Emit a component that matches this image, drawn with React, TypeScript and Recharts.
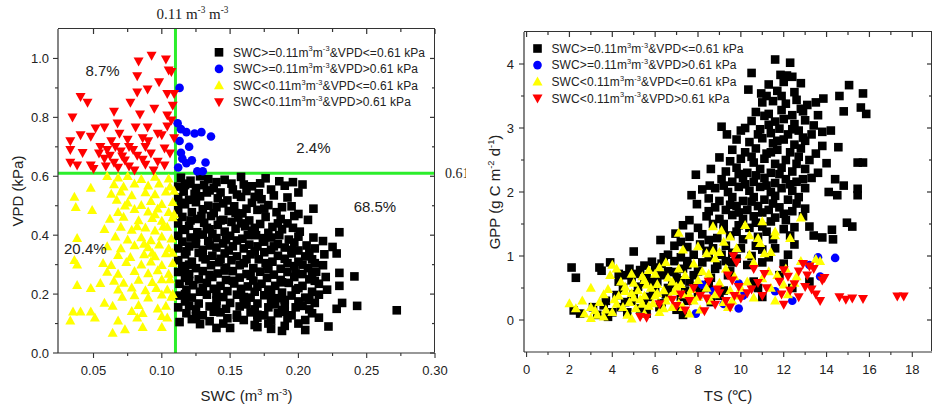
import React from "react";
import { ScatterChart, Scatter, XAxis, YAxis, ReferenceLine, ReferenceDot, Label } from "recharts";

const FONT = '"Liberation Sans", Arial, sans-serif';
const SERIF = '"Liberation Serif", "Times New Roman", serif';
const AXIS = "#333";
const TEXT = "#222";
const GREEN = "#2bee2b";

// axis ticks
const swcMajor = [0.05, 0.1, 0.15, 0.2, 0.25, 0.3];
const swcMinor = [0.075, 0.125, 0.175, 0.225, 0.275];
const vpdMajor = [0, 0.2, 0.4, 0.6, 0.8, 1.0];
const vpdMinor = [0.1, 0.3, 0.5, 0.7, 0.9];
const tsMajor = [0, 2, 4, 6, 8, 10, 12, 14, 16, 18];
const tsMinor = [1, 3, 5, 7, 9, 11, 13, 15, 17];
const gppMajor = [0, 1, 2, 3, 4];
const gppMinor = [0.5, 1.5, 2.5, 3.5];

// axis ranges
const swcDomain: [number, number] = [0.024, 0.3];
const vpdDomain: [number, number] = [0, 1.1];
const tsDomain: [number, number] = [-0.12, 18.92];
const gppDomain: [number, number] = [-0.5, 4.5];

// thresholds and share of days per group (left panel)
const swcThreshold = 0.11;
const vpdThreshold = 0.61;
const shares = ["68.5%", "2.4%", "20.4%", "8.7%"];

// groups: SWC op, VPD op
const groups = [
  { op1: ">=", op2: "<=", color: "#000000", shape: "square" },
  { op1: ">=", op2: ">", color: "#0000ff", shape: "circle" },
  { op1: "<", op2: "<=", color: "#ffff00", shape: "up" },
  { op1: "<", op2: ">", color: "#ff0000", shape: "down" },
];

// ---- left panel: [SWC, VPD]
const leftBlack: [number, number][] = [
  [0.114,0.595],[0.121,0.585],[0.128,0.6],[0.134,0.59],[0.146,0.588],[0.158,0.598],[0.176,0.593],[0.186,0.583],[0.196,0.58],
  [0.112,0.565],[0.119,0.575],[0.131,0.57],[0.138,0.56],[0.151,0.575],[0.166,0.566],[0.172,0.576],[0.19,0.568],[0.203,0.572],
  [0.116,0.548],[0.124,0.54],[0.135,0.552],[0.143,0.545],[0.155,0.538],[0.162,0.55],[0.171,0.542],[0.18,0.555],[0.2,0.545],
  [0.112,0.528],[0.12,0.52],[0.128,0.532],[0.141,0.525],[0.148,0.518],[0.158,0.53],[0.173,0.522],[0.192,0.528],
  [0.117,0.505],[0.125,0.512],[0.134,0.5],[0.145,0.508],[0.153,0.498],[0.166,0.51],[0.178,0.502],[0.195,0.498],[0.211,0.49],
  [0.112,0.485],[0.122,0.478],[0.13,0.488],[0.138,0.475],[0.149,0.482],[0.159,0.474],[0.17,0.486],[0.184,0.478],[0.2,0.472],
  [0.115,0.462],[0.126,0.455],[0.136,0.465],[0.145,0.452],[0.156,0.46],[0.164,0.45],[0.176,0.462],[0.187,0.455],[0.197,0.465],[0.207,0.452],
  [0.112,0.44],[0.12,0.432],[0.131,0.442],[0.141,0.435],[0.151,0.445],[0.161,0.43],[0.172,0.438],[0.181,0.428],[0.192,0.44],
  [0.117,0.418],[0.126,0.41],[0.135,0.42],[0.146,0.412],[0.154,0.422],[0.166,0.415],[0.178,0.408],[0.188,0.42],[0.201,0.412],[0.23,0.41],
  [0.112,0.398],[0.121,0.392],[0.13,0.402],[0.14,0.39],[0.15,0.398],[0.159,0.388],[0.169,0.4],[0.18,0.392],[0.193,0.385],[0.211,0.392],
  [0.115,0.378],[0.125,0.37],[0.134,0.38],[0.145,0.372],[0.155,0.382],[0.164,0.368],[0.175,0.378],[0.185,0.37],[0.197,0.375],[0.206,0.365],[0.218,0.38],
  [0.112,0.355],[0.12,0.362],[0.13,0.35],[0.14,0.358],[0.149,0.348],[0.16,0.355],[0.17,0.362],[0.18,0.35],[0.19,0.358],[0.2,0.348],[0.212,0.355],[0.225,0.36],
  [0.117,0.335],[0.127,0.34],[0.137,0.33],[0.146,0.338],[0.155,0.328],[0.165,0.335],[0.175,0.342],[0.185,0.33],[0.195,0.338],[0.205,0.328],[0.219,0.335],[0.228,0.338],
  [0.112,0.315],[0.122,0.31],[0.132,0.318],[0.142,0.308],[0.151,0.315],[0.16,0.305],[0.171,0.318],[0.181,0.31],[0.19,0.32],[0.2,0.31],[0.21,0.318],
  [0.115,0.295],[0.125,0.288],[0.136,0.298],[0.147,0.29],[0.157,0.298],[0.167,0.288],[0.177,0.296],[0.187,0.286],[0.197,0.295],[0.207,0.288],[0.218,0.298],
  [0.112,0.275],[0.12,0.268],[0.13,0.278],[0.141,0.27],[0.152,0.278],[0.162,0.268],[0.172,0.276],[0.182,0.266],[0.192,0.275],[0.203,0.268],[0.213,0.276],[0.23,0.272],[0.241,0.26],
  [0.117,0.255],[0.127,0.25],[0.137,0.258],[0.147,0.248],[0.157,0.256],[0.167,0.246],[0.177,0.255],[0.187,0.248],[0.197,0.258],[0.208,0.25],[0.22,0.258],
  [0.113,0.235],[0.123,0.23],[0.133,0.238],[0.143,0.228],[0.153,0.236],[0.163,0.226],[0.173,0.235],[0.183,0.228],[0.193,0.238],[0.203,0.228],[0.215,0.235],[0.23,0.228],
  [0.118,0.215],[0.128,0.208],[0.138,0.218],[0.148,0.21],[0.158,0.218],[0.168,0.208],[0.178,0.215],[0.188,0.205],[0.198,0.215],[0.21,0.208],[0.221,0.215],
  [0.113,0.195],[0.122,0.188],[0.133,0.198],[0.145,0.19],[0.155,0.198],[0.165,0.188],[0.175,0.196],[0.185,0.186],[0.195,0.195],[0.205,0.188],[0.215,0.198],
  [0.117,0.175],[0.127,0.168],[0.14,0.178],[0.15,0.17],[0.16,0.178],[0.17,0.168],[0.18,0.176],[0.19,0.166],[0.2,0.175],[0.212,0.17],[0.232,0.17],
  [0.112,0.155],[0.125,0.148],[0.135,0.158],[0.147,0.15],[0.157,0.158],[0.168,0.148],[0.178,0.155],[0.188,0.146],[0.198,0.155],[0.208,0.148],[0.243,0.16],
  [0.118,0.135],[0.13,0.128],[0.143,0.138],[0.155,0.13],[0.165,0.138],[0.175,0.128],[0.185,0.135],[0.195,0.128],[0.21,0.135],[0.228,0.15],[0.272,0.145],
  [0.122,0.115],[0.135,0.108],[0.148,0.118],[0.16,0.112],[0.17,0.12],[0.18,0.11],[0.192,0.118],[0.205,0.112],[0.215,0.12],
  [0.113,0.105],[0.128,0.098],[0.145,0.1],[0.168,0.095],[0.178,0.1],[0.19,0.092],[0.2,0.1],
  [0.14,0.085],[0.15,0.085],[0.17,0.088],[0.18,0.082],[0.222,0.09],[0.188,0.075],[0.205,0.078],
  [0.117,0.57],[0.125,0.56],[0.133,0.545],[0.14,0.58],[0.152,0.555],[0.16,0.572],[0.168,0.53],[0.182,0.535],
  [0.114,0.51],[0.129,0.465],[0.14,0.495],[0.154,0.475],[0.162,0.49],[0.175,0.49],[0.188,0.495],[0.121,0.45],
  [0.133,0.425],[0.143,0.45],[0.158,0.44],[0.168,0.425],[0.185,0.44],[0.196,0.425],[0.115,0.42],
  [0.125,0.39],[0.137,0.405],[0.147,0.385],[0.163,0.4],[0.174,0.39],[0.186,0.4],[0.2,0.395],
  [0.118,0.345],[0.135,0.365],[0.152,0.362],[0.168,0.345],[0.182,0.362],[0.195,0.35],[0.208,0.34],
  [0.12,0.3],[0.13,0.325],[0.143,0.32],[0.162,0.318],[0.176,0.305],[0.192,0.305],[0.203,0.3],[0.212,0.305],
  [0.117,0.28],[0.135,0.265],[0.146,0.28],[0.165,0.262],[0.178,0.285],[0.198,0.27],[0.21,0.262],
  [0.12,0.245],[0.13,0.22],[0.152,0.245],[0.17,0.225],[0.188,0.24],[0.2,0.22],[0.212,0.245],
  [0.117,0.2],[0.14,0.2],[0.16,0.19],[0.18,0.2],[0.19,0.18],[0.208,0.18],
  [0.12,0.16],[0.14,0.16],[0.162,0.165],[0.183,0.165],[0.203,0.16],[0.138,0.14],[0.17,0.13],[0.19,0.14],[0.125,0.125],[0.155,0.12],
];
const leftBlue: [number, number][] = [
  [0.113,0.9],[0.1116,0.78],[0.114,0.76],[0.118,0.75],[0.124,0.745],[0.129,0.75],[0.136,0.735],[0.12,0.7],[0.114,0.68],
  [0.115,0.66],[0.122,0.654],[0.118,0.644],[0.132,0.647],[0.113,0.72],[0.126,0.617],[0.13,0.617],[0.112,0.63],
];
const leftYellow: [number, number][] = [
  [0.06,0.6],[0.068,0.595],[0.075,0.6],[0.085,0.59],[0.095,0.598],[0.105,0.592],
  [0.048,0.56],[0.065,0.572],[0.072,0.565],[0.08,0.575],[0.09,0.568],[0.098,0.575],[0.106,0.565],
  [0.036,0.53],[0.063,0.54],[0.07,0.548],[0.078,0.535],[0.088,0.545],[0.095,0.538],[0.103,0.548],
  [0.037,0.495],[0.075,0.51],[0.085,0.502],[0.092,0.515],[0.1,0.505],[0.108,0.512],
  [0.049,0.485],[0.068,0.478],[0.08,0.488],[0.09,0.48],[0.097,0.49],[0.105,0.478],
  [0.062,0.455],[0.072,0.462],[0.083,0.45],[0.093,0.458],[0.1,0.448],[0.108,0.46],
  [0.058,0.42],[0.07,0.428],[0.078,0.418],[0.088,0.425],[0.095,0.415],[0.104,0.428],
  [0.038,0.39],[0.066,0.395],[0.075,0.385],[0.085,0.392],[0.092,0.382],[0.1,0.395],[0.107,0.388],
  [0.06,0.362],[0.07,0.355],[0.08,0.365],[0.09,0.358],[0.098,0.368],[0.105,0.355],
  [0.068,0.332],[0.077,0.325],[0.087,0.335],[0.095,0.328],[0.103,0.338],
  [0.036,0.315],[0.038,0.3],[0.057,0.305],[0.063,0.298],[0.074,0.308],[0.085,0.3],[0.092,0.31],[0.1,0.298],[0.108,0.305],
  [0.06,0.275],[0.068,0.268],[0.08,0.278],[0.09,0.27],[0.097,0.28],[0.105,0.268],
  [0.055,0.237],[0.065,0.245],[0.072,0.238],[0.083,0.248],[0.093,0.24],[0.1,0.25],
  [0.038,0.23],[0.048,0.22],[0.068,0.215],[0.078,0.222],[0.088,0.212],[0.096,0.22],[0.104,0.215],
  [0.071,0.19],[0.08,0.195],[0.09,0.188],[0.1,0.198],[0.107,0.19],
  [0.058,0.17],[0.064,0.16],[0.083,0.162],[0.097,0.15],[0.103,0.16],
  [0.035,0.14],[0.0405,0.14],[0.048,0.14],[0.078,0.142],[0.086,0.135],[0.104,0.12],
  [0.033,0.11],[0.051,0.12],[0.068,0.11],[0.082,0.12],[0.1,0.125],
  [0.073,0.08],[0.086,0.088],[0.1,0.088],[0.064,0.068],
  [0.082,0.43],[0.095,0.47],[0.101,0.43],[0.087,0.37],[0.093,0.34],[0.108,0.34],[0.106,0.25],[0.108,0.2],
  [0.109,0.55],[0.109,0.47],[0.073,0.5],[0.067,0.52],
];
const leftRed: [number, number][] = [
  [0.0925,1.01],[0.083,0.99],[0.103,0.997],[0.082,0.94],[0.107,0.955],[0.0896,0.895],[0.082,0.885],[0.104,0.88],
  [0.0405,0.87],[0.0456,0.85],[0.077,0.85],[0.0346,0.8],[0.065,0.82],[0.084,0.81],[0.0945,0.83],[0.104,0.807],
  [0.0676,0.78],[0.0515,0.763],[0.058,0.766],[0.0808,0.766],[0.0896,0.766],[0.104,0.77],[0.0405,0.74],[0.048,0.735],
  [0.069,0.745],[0.086,0.73],[0.097,0.745],[0.033,0.72],[0.055,0.7],[0.06,0.69],[0.066,0.7],[0.076,0.7],[0.088,0.7],
  [0.102,0.695],[0.033,0.69],[0.042,0.68],[0.054,0.678],[0.062,0.67],[0.071,0.668],[0.082,0.67],[0.092,0.678],
  [0.106,0.678],[0.058,0.66],[0.065,0.647],[0.073,0.654],[0.086,0.657],[0.097,0.65],[0.033,0.647],[0.038,0.637],
  [0.048,0.637],[0.059,0.634],[0.068,0.63],[0.076,0.634],[0.088,0.64],[0.102,0.637],[0.109,0.88],[0.109,0.73],
  [0.09,0.72],[0.075,0.725],[0.063,0.72],[0.1,0.74],[0.107,0.79],[0.108,0.84],[0.105,0.96],[0.098,0.92],
  [0.094,0.62],[0.08,0.62],[0.05,0.625],[0.07,0.685],[0.079,0.69],
];

// ---- right panel: [TS, GPP]
const rightBlack: [number, number][] = [
  [11.6,4.07],[12.3,4.02],[10.5,3.86],[11.85,3.83],[12.15,3.82],[12.4,3.8],
  [12.8,3.7],[15.05,3.67],[11.3,3.68],[12.0,3.72],
  [10.35,3.6],[10.95,3.54],[11.7,3.58],[12.5,3.56],[13.85,3.46],[14.6,3.5],[15.7,3.54],
  [11.0,3.4],[11.5,3.42],[12.1,3.38],[12.6,3.44],[13.1,3.36],[13.5,3.4],
  [10.7,3.25],[11.3,3.22],[11.9,3.28],[12.4,3.2],[12.9,3.26],[14.8,3.26],[15.6,3.32],[15.85,3.22],
  [10.5,3.11],[11.1,3.19],[11.6,3.1],[12.0,3.14],[12.5,3.06],[13.0,3.12],[13.4,3.04],[14.2,2.96],
  [9.1,3.02],[10.0,2.96],[10.9,2.98],[11.4,2.92],[11.8,2.99],[12.2,2.9],[12.7,2.96],[13.3,2.9],[13.8,2.94],
  [9.35,2.9],[9.8,2.82],[10.4,2.78],[11.0,2.84],[11.5,2.76],[12.0,2.82],[12.5,2.74],[13.0,2.8],[14.55,2.7],
  [9.6,2.66],[10.2,2.62],[10.7,2.68],[11.2,2.6],[11.7,2.66],[12.3,2.62],[12.8,2.68],[13.5,2.6],
  [9.0,2.54],[9.5,2.48],[10.0,2.52],[10.6,2.46],[11.1,2.52],[11.6,2.44],[12.1,2.5],[12.6,2.44],[13.2,2.5],[15.45,2.46],[15.7,2.46],
  [8.6,2.36],[9.3,2.32],[9.8,2.38],[10.3,2.3],[10.9,2.36],[11.4,2.3],[11.9,2.38],[12.4,2.32],[13.0,2.36],[13.6,2.3],
  [7.9,2.27],[8.55,2.1],[9.1,2.2],[9.6,2.16],[10.1,2.22],[10.6,2.16],[11.1,2.22],[11.6,2.14],[12.1,2.2],[12.6,2.16],[13.3,2.22],[14.4,2.2],
  [8.2,2.04],[8.8,2.06],[9.4,2.0],[9.9,2.08],[10.4,2.02],[10.9,2.08],[11.4,2.0],[11.9,2.06],[12.4,2.02],[13.0,2.06],[14.8,2.1],[15.45,2.05],
  [7.7,1.95],[8.5,1.9],[9.0,1.86],[9.6,1.92],[10.1,1.86],[10.6,1.92],[11.1,1.88],[11.6,1.94],[12.2,1.88],[12.7,1.92],[14.1,2.0],[14.5,1.95],[15.45,1.95],
  [7.95,1.81],[8.8,1.76],[9.3,1.72],[9.8,1.78],[10.3,1.72],[10.8,1.78],[11.3,1.72],[11.8,1.76],[12.4,1.7],[13.0,1.74],
  [7.6,1.56],[8.4,1.62],[9.0,1.58],[9.6,1.64],[10.1,1.58],[10.6,1.62],[11.6,1.6],[12.1,1.56],[12.9,1.62],[14.95,1.52],
  [7.3,1.48],[8.0,1.44],[8.7,1.5],[9.2,1.42],[9.9,1.48],[10.4,1.44],[11.0,1.46],[12.0,1.42],[13.2,1.46],[14.25,1.41],[15.2,1.46],
  [6.95,1.35],[7.6,1.3],[8.2,1.34],[8.9,1.28],[9.5,1.32],[10.1,1.26],[10.8,1.3],[11.5,1.26],[12.3,1.32],[13.4,1.32],[13.8,1.29],[14.3,1.26],
  [6.25,1.25],[6.9,1.16],[7.5,1.14],[8.1,1.18],[8.7,1.12],[9.3,1.16],[10.0,1.12],[10.7,1.16],[11.6,1.12],[12.5,1.18],
  [5.0,1.07],[6.6,1.02],[7.2,0.98],[7.8,1.02],[8.5,0.98],[9.1,1.02],[9.8,0.96],[10.5,1.0],[11.3,0.98],[12.2,1.02],
  [3.9,0.9],[5.85,0.91],[6.3,0.88],[6.9,0.92],[7.5,0.86],[8.2,0.9],[8.9,0.86],[9.6,0.9],[10.3,0.86],[11.0,0.9],[12.0,0.88],
  [2.1,0.82],[3.4,0.82],[4.8,0.8],[5.3,0.78],[6.0,0.82],[6.6,0.76],[7.3,0.8],[8.0,0.76],[8.8,0.8],[9.5,0.76],
  [2.3,0.66],[3.5,0.77],[4.6,0.7],[5.1,0.72],[5.6,0.66],[6.3,0.7],[7.0,0.66],[7.8,0.7],[8.6,0.66],[9.4,0.7],[11.8,0.7],
  [4.3,0.6],[4.9,0.62],[5.5,0.58],[6.1,0.6],[6.8,0.56],[7.6,0.6],[8.5,0.56],[10.6,0.6],[13.2,0.6],
  [4.5,0.5],[5.2,0.52],[5.9,0.48],[6.6,0.5],[7.4,0.46],[8.3,0.5],[9.2,0.46],[10.8,0.5],[12.4,0.5],
  [4.2,0.39],[5.0,0.4],[5.7,0.36],[6.5,0.4],[7.2,0.36],[8.0,0.4],[9.0,0.38],[11.0,0.36],
  [3.7,0.3],[4.6,0.28],[5.5,0.3],[6.3,0.26],[7.5,0.3],[8.6,0.28],
  [2.2,0.15],[3.6,0.23],[4.4,0.2],[5.3,0.18],[6.2,0.2],[7.0,0.16],
  [2.5,0.1],[3.3,0.08],[4.0,0.12],[5.6,0.1],[7.3,0.08],[3.8,0.05],
  [10.2,3.0],[10.8,2.9],[11.3,3.05],[12.4,2.98],[12.9,2.85],[11.7,2.8],[10.5,2.55],[11.4,2.62],[12.7,2.55],
  [9.9,2.28],[10.7,2.26],[11.8,2.28],[12.9,2.2],[9.2,2.1],[10.2,2.12],[11.2,2.1],[12.3,2.12],[9.5,1.8],
  [10.5,1.85],[11.5,1.82],[12.6,1.82],[8.5,1.7],[9.9,1.68],[11.0,1.68],[12.0,1.66],[9.2,1.5],[10.7,1.52],
  [11.4,1.54],[12.5,1.45],[8.5,1.25],[9.8,1.38],[11.2,1.38],[7.2,1.22],[8.4,1.08],[9.6,1.05],[11.0,1.1],
  [6.4,0.98],[7.5,0.92],[9.3,0.92],[5.5,0.85],[6.9,0.75],[4.3,0.72],[5.8,0.6],[7.2,0.62],[4.9,0.3],
  [6.0,0.45],[7.9,0.52],[3.1,0.2],[4.7,0.12],[11.9,3.5],[12.8,3.3],[11.2,3.5],[13.6,3.2],[13.8,2.72],[14.0,2.45],
];
const rightBlue: [number, number][] = [
  [13.6,0.98],[14.4,0.97],[9.9,0.18],[7.9,0.1],[13.2,0.86],[9.9,0.57],[8.7,0.45],[10.1,0.38],[11.6,0.45],
  [13.7,0.68],[9.2,0.25],[12.4,0.3],[8.2,0.55],
];
const rightYellow: [number, number][] = [
  [12.8,1.6],[11.0,1.54],[8.7,1.46],[10.2,1.48],[7.1,1.36],[9.1,1.4],[11.6,1.38],
  [9.5,1.3],[10.4,1.32],[10.8,1.28],[11.6,1.32],[12.3,1.28],
  [8.0,1.15],[9.2,1.22],[10.9,1.2],[7.3,1.1],[8.7,1.08],[9.8,1.12],[11.4,1.06],
  [8.4,1.04],[9.0,1.06],[10.4,1.02],[11.1,1.04],[8.8,0.96],[13.5,0.95],[13.7,0.92],
  [4.0,0.86],[6.5,0.9],[7.8,0.88],[10.6,0.9],[12.8,0.92],
  [4.2,0.8],[5.7,0.78],[6.2,0.82],[7.1,0.8],[8.2,0.76],[9.3,0.8],[11.3,0.76],[12.1,0.8],
  [3.9,0.7],[4.9,0.72],[5.4,0.68],[6.0,0.72],[6.6,0.66],[7.4,0.7],[8.5,0.72],[9.7,0.68],[11.7,0.7],[12.6,0.68],
  [4.4,0.6],[5.0,0.58],[5.5,0.62],[6.1,0.56],[6.8,0.6],[7.2,0.56],[8.0,0.62],[9.0,0.58],[10.3,0.6],[12.5,0.58],
  [3.0,0.5],[3.8,0.48],[4.6,0.52],[5.2,0.46],[5.8,0.5],[6.4,0.46],[7.0,0.52],[7.7,0.48],[8.4,0.5],[9.5,0.46],[11.4,0.5],
  [3.6,0.4],[4.3,0.38],[4.9,0.42],[5.5,0.38],[6.1,0.42],[6.7,0.36],[7.3,0.4],[8.0,0.36],[8.8,0.4],[9.9,0.38],[12.2,0.4],
  [2.0,0.26],[2.6,0.3],[3.4,0.28],[4.1,0.32],[4.8,0.28],[5.3,0.32],[5.9,0.26],[6.5,0.3],[7.1,0.26],[7.8,0.3],[9.2,0.28],[11.6,0.3],
  [2.3,0.18],[3.0,0.2],[3.7,0.16],[4.5,0.2],[5.1,0.18],[5.7,0.22],[6.4,0.18],[7.3,0.2],[8.1,0.16],[9.4,0.2],
  [2.7,0.1],[3.3,0.08],[4.0,0.12],[4.7,0.08],[5.5,0.1],[6.2,0.12],[7.6,0.1],
  [3.0,0.03],[3.6,0.05],[4.9,0.02],
  [5.0,0.35],[5.4,0.25],[6.0,0.38],[4.6,0.45],[6.9,0.45],[5.6,0.55],[4.2,0.25],[3.2,0.15],[6.8,0.2],
  [7.6,0.4],[8.6,0.3],[10.0,0.5],[11.0,0.65],[12.0,0.55],[9.6,0.3],[10.6,0.35],
];
const rightRed: [number, number][] = [
  [9.65,1.0],[9.8,0.9],[12.9,0.88],[13.2,0.84],[10.6,0.8],[12.0,0.78],[12.7,0.76],[13.4,0.8],
  [9.4,0.7],[11.1,0.72],[12.2,0.68],[13.1,0.7],[13.9,0.66],
  [8.5,0.6],[9.6,0.62],[10.8,0.58],[11.8,0.6],[12.5,0.56],[13.8,0.62],
  [7.8,0.5],[8.9,0.48],[9.9,0.52],[10.5,0.48],[11.2,0.5],[12.3,0.46],[13.0,0.52],[13.3,0.48],
  [7.2,0.4],[8.1,0.38],[9.0,0.42],[9.7,0.38],[10.3,0.42],[11.0,0.38],[11.9,0.4],[12.7,0.36],[13.5,0.4],[14.6,0.36],[15.2,0.34],
  [6.8,0.32],[7.6,0.3],[8.4,0.34],[9.3,0.3],[10.0,0.34],[13.7,0.3],[15.7,0.33],[17.3,0.37],[17.6,0.37],[14.9,0.32],
  [6.2,0.25],[7.0,0.22],[8.8,0.24],[9.5,0.2],[12.0,0.24],[7.4,0.15],[8.3,0.14],[5.3,0.05],[5.6,0.04],
];

const toPts = (arr: [number, number][]) => arr.map(([x, y]) => ({ x, y }));
const merge = (a: number[], b: number[]) => [...a, ...b].sort((p, q) => p - q);
const isIn = (list: number[], v: number) => list.some((m) => Math.abs(m - v) < 1e-9);

// marker shapes
const Marker = ({ kind, cx, cy, color }: any) => {
  if (cx == null || cy == null) return null;
  if (kind === "square") return <rect x={cx - 4.3} y={cy - 4.3} width={8.6} height={8.6} fill={color} />;
  if (kind === "circle") return <circle cx={cx} cy={cy} r={4.3} fill={color} />;
  if (kind === "up")
    return <path d={`M${cx},${cy - 5.2}L${cx + 5},${cy + 3.8}L${cx - 5},${cy + 3.8}Z`} fill={color} />;
  return <path d={`M${cx},${cy + 5.2}L${cx + 5},${cy - 3.8}L${cx - 5},${cy - 3.8}Z`} fill={color} />;
};
const shapeFor = (g: (typeof groups)[number]) => (p: any) => <Marker kind={g.shape} cx={p.cx} cy={p.cy} color={g.color} />;

// text with superscripts: parts = [text, isSup]
const Rich = ({ parts, size, ...rest }: any) => {
  let up = false;
  return (
    <text fontSize={size} {...rest}>
      {parts.map(([t, sup]: [string, boolean], i: number) => {
        let dy = 0;
        if (sup && !up) { dy = -size * 0.42; up = true; }
        else if (!sup && up) { dy = size * 0.42; up = false; }
        return (
          <tspan key={i} dy={dy} fontSize={sup ? size * 0.62 : size}>
            {t}
          </tspan>
        );
      })}
    </text>
  );
};

const legendParts = (g: (typeof groups)[number]) => [
  [`SWC${g.op1}${swcThreshold}m`, false],
  ["3", true],
  ["m", false],
  ["-3", true],
  [`&VPD${g.op2}${vpdThreshold} kPa`, false],
];

const LegendBox = ({ x, y, gap }: { x: number; y: number; gap: number }) => (
  <g fontFamily={FONT}>
    {groups.map((g, i) => (
      <g key={i}>
        <Marker kind={g.shape} cx={x} cy={y + i * gap} color={g.color} />
        <Rich parts={legendParts(g)} size={12} letterSpacing={0.1} x={x + 14} y={y + i * gap + 4.2} fill={TEXT} />
      </g>
    ))}
  </g>
);

// top and right edges of the plot box with inward ticks (same box as the chart margins give)
type Box = { l: number; r: number; t: number; b: number };
const MirrorTicks = ({ box, xd, yd, xTicks, xMajor, yTicks, yMajor }: {
  box: Box; xd: [number, number]; yd: [number, number]; xTicks: number[]; xMajor: number[]; yTicks: number[]; yMajor: number[];
}) => {
  const sx = (v: number) => box.l + ((v - xd[0]) / (xd[1] - xd[0])) * (box.r - box.l);
  const sy = (v: number) => box.b - ((v - yd[0]) / (yd[1] - yd[0])) * (box.b - box.t);
  return (
    <g>
      {xTicks.map((v) => (
        <rect key={`x${v}`} x={sx(v) - 0.6} y={box.t} width={1.2} height={isIn(xMajor, v) ? 5 : 3} fill={AXIS} />
      ))}
      {yTicks.map((v) => (
        <rect key={`y${v}`} x={box.r - (isIn(yMajor, v) ? 5 : 3)} y={sy(v) - 0.6} width={isIn(yMajor, v) ? 5 : 3} height={1.2} fill={AXIS} />
      ))}
    </g>
  );
};

// CSS edge lines for the top and right sides of the box
const EdgeBox = ({ box }: { box: Box }) => (
  <div
    style={{
      position: "absolute",
      left: box.l,
      top: box.t - 0.6,
      width: box.r - box.l,
      height: box.b - box.t,
      borderTop: `1.2px solid ${AXIS}`,
      borderRight: `1.2px solid ${AXIS}`,
      boxSizing: "border-box",
      marginRight: -0.6,
      pointerEvents: "none",
    }}
  />
);

// tick renderers: ticks sit exactly on the axis line (tickSize=0, tickMargin=0)
const makeTick = (side: string, major: number[], fmt: (v: number) => string, lab = 9) => (props: any) => {
  const { x, y, payload } = props;
  const v = payload.value;
  const major_ = isIn(major, v);
  const len = major_ ? 5 : 3;
  if (side === "bottom")
    return (
      <g stroke={AXIS} strokeWidth={1.1}>
        <line x1={x} y1={y} x2={x} y2={y + len} />
        {major_ && (
          <text x={x} y={y + 22} textAnchor="middle" stroke="none" fill={TEXT} fontSize={13} fontFamily={FONT}>{fmt(v)}</text>
        )}
      </g>
    );
  return (
    <g stroke={AXIS} strokeWidth={1.1}>
      <line x1={x - len} y1={y} x2={x} y2={y} />
      {major_ && (
        <text x={x - lab} y={y} dy="0.36em" textAnchor="end" stroke="none" fill={TEXT} fontSize={13} fontFamily={FONT}>{fmt(v)}</text>
      )}
    </g>
  );
};

const axisCommon = {
  type: "number" as const,
  tickSize: 0,
  tickMargin: 0,
  tickLine: false,
  interval: 0 as const,
  allowDataOverflow: true,
  axisLine: { stroke: AXIS, strokeWidth: 1.2 },
};

const LeftPanel = () => {
  const swcTicks = merge(swcMajor, swcMinor);
  const vpdTicks = merge(vpdMajor, vpdMinor);
  const data = [leftBlack, leftBlue, leftYellow, leftRed];
  const W = 466, H = 410;
  const m = { top: 29, right: 31, bottom: 0, left: 0 };
  const box: Box = { l: 58, r: W - m.right, t: m.top, b: H - 57 };
  return (
    <div style={{ position: "absolute", left: 0, top: 0, width: W, height: H }}>
      <ScatterChart width={W} height={H} margin={m}>
        <XAxis xAxisId="b" dataKey="x" domain={swcDomain} ticks={swcTicks} height={57} {...axisCommon}
          tick={makeTick("bottom", swcMajor, (v) => v.toFixed(2))}>
          <Label content={(p: any) => (
            <Rich parts={[["SWC (m", false], ["3", true], [" m", false], ["-3", true], [")", false]]} size={15}
              x={p.viewBox.x + p.viewBox.width / 2} y={p.viewBox.y + 48} textAnchor="middle" fill={TEXT} fontFamily={FONT} />
          )} />
        </XAxis>
        <YAxis yAxisId="l" dataKey="y" domain={vpdDomain} ticks={vpdTicks} width={58} {...axisCommon}
          tick={makeTick("left", vpdMajor, (v) => v.toFixed(1))}>
          <Label content={(p: any) => {
            const cx = p.viewBox.x + 18;
            const cy = p.viewBox.y + p.viewBox.height / 2;
            return (
              <text x={cx} y={cy} dy="0.35em" transform={`rotate(-90 ${cx} ${cy})`} textAnchor="middle" fontSize={15} fill={TEXT} fontFamily={FONT}>
                VPD (kPa)
              </text>
            );
          }} />
        </YAxis>
        {groups.map((g, i) => (
          <Scatter key={i} xAxisId="b" yAxisId="l" data={toPts(data[i])} fill={g.color} shape={shapeFor(g)} isAnimationActive={false} />
        ))}
        <ReferenceLine xAxisId="b" yAxisId="l" x={swcThreshold} stroke={GREEN} strokeWidth={3}
          label={(p: any) => (
            <Rich parts={[[`${swcThreshold} m`, false], ["-3", true], [" m", false], ["-3", true]]} size={15}
              x={p.viewBox.x - 19} y={p.viewBox.y - 10} fill={TEXT} fontFamily={SERIF} />
          )} />
        <ReferenceLine xAxisId="b" yAxisId="l" y={vpdThreshold} stroke={GREEN} strokeWidth={3}
          label={(p: any) => (
            <text x={p.viewBox.x + p.viewBox.width + 10} y={p.viewBox.y + 5} fontSize={14} fill={TEXT} fontFamily={SERIF}>
              {`${vpdThreshold} kPa`}
            </text>
          )} />
        <ReferenceDot xAxisId="b" yAxisId="l" x={0.256} y={0.498} r={0} fill="none" stroke="none"
          label={{ value: shares[0], position: "center", fontSize: 15, fill: TEXT, fontFamily: FONT }} />
        <ReferenceDot xAxisId="b" yAxisId="l" x={0.211} y={0.697} r={0} fill="none" stroke="none"
          label={{ value: shares[1], position: "center", fontSize: 15, fill: TEXT, fontFamily: FONT }} />
        <ReferenceDot xAxisId="b" yAxisId="l" x={0.044} y={0.353} r={0} fill="none" stroke="none"
          label={{ value: shares[2], position: "center", fontSize: 15, fill: TEXT, fontFamily: FONT }} />
        <ReferenceDot xAxisId="b" yAxisId="l" x={0.0566} y={0.959} r={0} fill="none" stroke="none"
          label={{ value: shares[3], position: "center", fontSize: 15, fill: TEXT, fontFamily: FONT }} />
      </ScatterChart>
      <EdgeBox box={box} />
      <svg width={W} height={H} style={{ position: "absolute", left: 0, top: 0, pointerEvents: "none" }}>
        <MirrorTicks box={box} xd={swcDomain} yd={vpdDomain} xTicks={swcTicks} xMajor={swcMajor} yTicks={vpdTicks} yMajor={vpdMajor} />
        <LegendBox x={219} y={52.3} gap={16.6} />
      </svg>
    </div>
  );
};

const RightPanel = () => {
  const tsTicks = merge(tsMajor, tsMinor);
  const gppTicks = merge(gppMajor, gppMinor);
  const data = [rightBlack, rightBlue, rightYellow, rightRed];
  const W = 472, H = 410;
  const m = { top: 32, right: 10, bottom: 0, left: 0 };
  const box: Box = { l: 54, r: W - m.right, t: m.top, b: H - 58 };
  return (
    <div style={{ position: "absolute", left: 470, top: 0, width: W, height: H }}>
      <ScatterChart width={W} height={H} margin={m}>
        <XAxis xAxisId="b" dataKey="x" domain={tsDomain} ticks={tsTicks} height={58} {...axisCommon}
          tick={makeTick("bottom", tsMajor, (v) => String(v))}>
          <Label content={(p: any) => (
            <text x={p.viewBox.x + p.viewBox.width / 2} y={p.viewBox.y + 49} textAnchor="middle" fontSize={15} fill={TEXT} fontFamily={FONT}>
              TS (℃)
            </text>
          )} />
        </XAxis>
        <YAxis yAxisId="l" dataKey="y" domain={gppDomain} ticks={gppTicks} width={54} {...axisCommon}
          tick={makeTick("left", gppMajor, (v) => String(v), 10)}>
          <Label content={(p: any) => {
            const cx = p.viewBox.x + 25;
            const cy = p.viewBox.y + p.viewBox.height / 2;
            return (
              <g transform={`rotate(-90 ${cx} ${cy})`}>
                <Rich parts={[["GPP (g C m", false], ["-2", true], [" d", false], ["-1", true], [")", false]]} size={15}
                  x={cx} y={cy + 5} textAnchor="middle" fill={TEXT} fontFamily={FONT} />
              </g>
            );
          }} />
        </YAxis>
        {groups.map((g, i) => (
          <Scatter key={i} xAxisId="b" yAxisId="l" data={toPts(data[i])} fill={g.color} shape={shapeFor(g)} isAnimationActive={false} />
        ))}
      </ScatterChart>
      <EdgeBox box={box} />
      <svg width={W} height={H} style={{ position: "absolute", left: 0, top: 0, pointerEvents: "none" }}>
        <MirrorTicks box={box} xd={tsDomain} yd={gppDomain} xTicks={tsTicks} xMajor={tsMajor} yTicks={gppTicks} yMajor={gppMajor} />
        <LegendBox x={67.5} y={48.5} gap={16.6} />
      </svg>
    </div>
  );
};

export default function App() {
  return (
    <div style={{ position: "absolute", left: 0, top: 0, width: 942, height: 410, background: "#fff", fontFamily: FONT }}>
      <LeftPanel />
      <RightPanel />
    </div>
  );
}
